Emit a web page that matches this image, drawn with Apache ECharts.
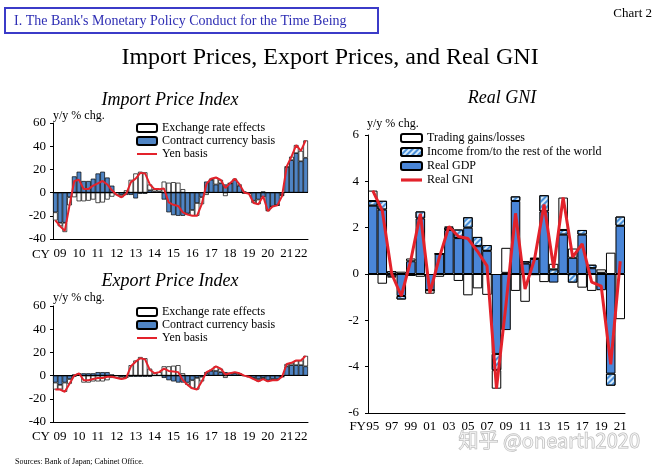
<!DOCTYPE html>
<html><head><meta charset="utf-8">
<script src="https://cdn.jsdelivr.net/npm/echarts@6/dist/echarts.min.js"></script>
<style>html,body{margin:0;padding:0;background:#fff}#c{width:660px;height:468px}</style>
</head><body><div id="c"></div>
<script>
// ---- tick labels / categories ----
const yearLabels = ['09','10','11','12','13','14','15','16','17','18','19','20','21','22'];
const fyLabels = ['95','96','97','98','99','00','01','02','03','04','05','06','07','08','09','10','11','12','13','14','15','16','17','18','19','20','21'];
const yTicksPrice = [-40, 60, 20];
const yTicksGni = [-6, 6, 2];

// ---- Import price index (y/y %), quarterly CY2009Q1-2022Q2 ----
const impContract = [-17,-26,-26,-4, 14,18,10,10, 12,16.5,18,13, 6,0,-2,-2, -2,-5,-1,-1, 2,1,1,-6,
  -17,-19.5,-20,-20, -18,-15,-9,-4, 9.5,11,7,8, 7,8,11,6, 1,0,-7,-6, -4,-15,-12,-11, -2,22,28,34, 27,30];
const impExchange = [-7,-3,-8,-7, -4,-7.5,-7.5,-7, -6,-9,-8.5,-6, -3.5,-2,-2,2, 11,16.5,18,17.5, 5,2,2,9.5,
  8.5,9,8.5,3, -1,-5,-11,-6, -2,1,6,3, -3,0,1,1, -1,-1,-2,-4, 1,-1,0,0, -1,0.5,3,7, 9,15];
const impYen = [-24,-29,-33,-11, 10,11,3,3, 6,8,10,7, 2,-2,-4,-1, 9,12,17,16.5, 7,3,3,3.5,
  -8.5,-10.5,-11.5,-17, -19,-20,-20,-10, 7.5,12,13,11, 4,8,12,7, 0,-1,-9,-10, -3,-16,-12,-11, -3,22.5,31,41, 36,45];

// ---- Export price index (y/y %) ----
const expContract = [-6,-8,-6,-3, 1,1,2,2, 2,3,3,3, 1,0,-1,-1, -1,-1,-1,-1, -1,0,0,-2,
  -4,-5,-6,-6, -6,-4,-2,-1, 2,4,4,3, 3,2,2,1, 0,-1,-2,-3, -2,-4,-3,-3, -1,8,9,9, 9,8];
const expExchange = [-6,-4,-8,-4, -1,1,-6,-6, -5,-5,-5,-4, -2,-2,-2,-1, 9,13,16,15, 6,2,3,8,
  8,8.5,9,2, -2,-7,-10,-4, 1,1,4,3, -2,0,1,1, 0,0,-1,-2, -1,-1,-1,-1, 0,2,2,4, 4,9];
const expYen = [-12,-12,-14,-7, 0,2,-4,-4, -3,-2,-2,-1, -1,-2,-3,-2, 8,12,15,14, 5,2,3,6,
  4,3.5,3,-4, -8,-11,-12,-5, 3,5,8,6, 1,2,3,2, 0,-1,-3,-5, -3,-5,-4,-4, -1,10,11,13, 13,17];

// ---- Real GNI (y/y %), FY1995-2021 ----
const gdp = [2.95,2.78,-0.1,-0.95,0.55,2.4,-0.7,0.87,1.9,1.55,2.0,1.2,1.0,-3.45,-2.42,3.15,0.45,0.65,2.7,-0.37,1.7,0.7,1.7,0.25,-0.7,-4.3,2.08];
const income = [0.2,0.38,0.12,-0.15,-0.08,0.3,0.0,0.0,0.1,0.37,0.45,0.4,0.25,-0.7,0.05,0.2,0.1,0.05,0.7,0.2,0.2,-0.37,0.2,0.15,0.05,-0.52,0.4];
const trading = [0.45,-0.42,-0.05,0.1,0.12,-0.12,-0.15,-0.12,0.05,-0.3,-0.92,-0.62,-0.9,-0.8,1.08,-0.73,-1.2,-0.05,-0.35,0.24,1.4,0.4,-0.59,-0.73,0.15,0.92,-1.95];
const gni = [3.6,2.74,0.0,-0.95,0.6,2.6,-0.82,0.72,2.05,1.62,1.53,0.98,0.35,-4.95,-1.3,2.62,-0.65,0.65,3.0,0.27,3.3,0.73,1.3,-0.35,-0.52,-3.9,0.55];

// ---- build ----
const quarters = [];
yearLabels.forEach(y => { for (let q = 1; q <= 4; q++) quarters.push(y + 'Q' + q); });
quarters.length = impYen.length;

const SERIF = 'Liberation Serif';
const BLUE = '#4f84c4';
const GDPBLUE = '#4a86d8';
const RED = '#e3222b';
const LINE_ICON = 'path://M0,0 L40,0 L40,4 L0,4 Z';

function priceXAxis(gi) {
  return {
    type: 'category', gridIndex: gi, data: quarters, boundaryGap: true,
    axisLine: { onZero: false, lineStyle: { color: '#000', width: 1 } },
    axisTick: { inside: true, length: 3, interval: (i) => i % 4 === 0, lineStyle: { color: '#000' } },
    axisLabel: {
      interval: 0, color: '#000', fontFamily: SERIF, fontSize: 13, margin: 8,
      formatter: (v, i) => ((i % 4 === 1 && i < 52) || i === 52 ? v.slice(0, 2) : '')
    }
  };
}
function priceYAxis(gi) {
  return {
    type: 'value', gridIndex: gi, min: yTicksPrice[0], max: yTicksPrice[1], interval: yTicksPrice[2],
    splitLine: { show: false },
    axisLine: { show: true, lineStyle: { color: '#000', width: 1 } },
    axisTick: { show: true, length: 3, lineStyle: { color: '#000' } },
    axisLabel: { color: '#000', fontFamily: SERIF, fontSize: 13, margin: 7 }
  };
}
const zeroLine = {
  silent: true, symbol: ['none', 'none'], label: { show: false },
  lineStyle: { color: '#000', width: 1, type: 'solid' }, data: [{ yAxis: 0 }]
};
function priceSeries(gi, contract, exch, yen, stk) {
  return [
    { name: 'Contract currency basis', type: 'bar', stack: stk, xAxisIndex: gi, yAxisIndex: gi,
      data: contract, barWidth: '100%', barCategoryGap: '0%',
      itemStyle: { color: BLUE, borderColor: '#000', borderWidth: 0.7 }, markLine: zeroLine },
    { name: 'Exchange rate effects', type: 'bar', stack: stk, xAxisIndex: gi, yAxisIndex: gi,
      data: exch, barWidth: '100%', barCategoryGap: '0%',
      itemStyle: { color: '#fff', borderColor: '#000', borderWidth: 0.7 } },
    { name: 'Yen basis', type: 'line', xAxisIndex: gi, yAxisIndex: gi, data: yen, symbol: 'none', z: 5,
      lineStyle: { color: RED, width: 2 }, itemStyle: { color: RED } }
  ];
}
const legText = { fontSize: 12, fontFamily: SERIF, color: '#000', lineHeight: 12 };
function priceLegend(top) {
  return { data: ['Exchange rate effects', 'Contract currency basis',
      { name: 'Yen basis', icon: LINE_ICON, itemStyle: { color: RED, borderWidth: 0 } }],
    left: 136, top: top,
    orient: 'vertical', itemWidth: 20, itemHeight: 8, itemGap: 1, padding: 0, selectedMode: false,
    textStyle: legText };
}

const txt = (text, x, y, size, opt) => Object.assign({ type: 'text', x: x, y: y, silent: true,
  style: Object.assign({ text: text, fontFamily: SERIF, fontSize: size, fill: '#000', align: 'left', verticalAlign: 'middle' }, opt || {}) });

const option = {
  animation: false,
  backgroundColor: '#fff',
  grid: [
    { left: 53, top: 123, width: 255, height: 116 },
    { left: 53, top: 306, width: 255, height: 116 },
    { left: 368, top: 135, width: 257, height: 278 }
  ],
  xAxis: [
    priceXAxis(0), priceXAxis(1),
    { type: 'category', gridIndex: 2, data: fyLabels, boundaryGap: true,
      axisLine: { onZero: false, lineStyle: { color: '#000', width: 1 } },
      axisTick: { inside: true, length: 4, interval: 1, lineStyle: { color: '#000' } },
      axisLabel: { interval: 1, color: '#000', fontFamily: SERIF, fontSize: 13, margin: 7 } }
  ],
  yAxis: [
    priceYAxis(0), priceYAxis(1),
    { type: 'value', gridIndex: 2, min: yTicksGni[0], max: yTicksGni[1], interval: yTicksGni[2],
      splitLine: { show: false },
      axisLine: { show: true, lineStyle: { color: '#000', width: 1 } },
      axisTick: { show: true, length: 3, lineStyle: { color: '#000' } },
      axisLabel: { color: '#000', fontFamily: SERIF, fontSize: 13, margin: 9 } }
  ],
  legend: [
    priceLegend(122),
    priceLegend(306),
    { data: ['Trading gains/losses', 'Income from/to the rest of the world', 'Real GDP',
        { name: 'Real GNI', icon: 'path://M0,0 L40,0 L40,6 L0,6 Z', itemStyle: { color: RED, borderWidth: 0 } }],
      left: 400, top: 132, orient: 'vertical', itemWidth: 21, itemHeight: 8, itemGap: 2, padding: 0,
      selectedMode: false, textStyle: legText }
  ],
  series: [].concat(
    priceSeries(0, impContract, impExchange, impYen, 'imp'),
    priceSeries(1, expContract, expExchange, expYen, 'exp'),
    [
      { name: 'Real GDP', type: 'bar', stack: 'gni', xAxisIndex: 2, yAxisIndex: 2, data: gdp,
        barWidth: '100%', barCategoryGap: '0%', itemStyle: { color: GDPBLUE, borderColor: '#000', borderWidth: 1 },
        markLine: zeroLine },
      { name: 'Income from/to the rest of the world', type: 'bar', stack: 'gni', xAxisIndex: 2, yAxisIndex: 2,
        data: income, barWidth: '100%', barCategoryGap: '0%',
        itemStyle: { color: '#d4eafb', borderColor: '#000', borderWidth: 1,
          decal: { symbol: 'rect', symbolSize: 1, dashArrayX: [1, 0], dashArrayY: [2, 2],
            rotation: -Math.PI / 4, color: '#4a8fd8' } } },
      { name: 'Trading gains/losses', type: 'bar', stack: 'gni', xAxisIndex: 2, yAxisIndex: 2,
        data: trading, barWidth: '100%', barCategoryGap: '0%',
        itemStyle: { color: '#fff', borderColor: '#000', borderWidth: 1 } },
      { name: 'Real GNI', type: 'line', xAxisIndex: 2, yAxisIndex: 2, data: gni, symbol: 'none', z: 5,
        lineStyle: { color: RED, width: 3 }, itemStyle: { color: RED } }
    ]
  ),
  graphic: [
    { type: 'rect', silent: true, shape: { x: 5, y: 8, width: 373, height: 25 },
      style: { fill: 'none', stroke: '#3b3bc8', lineWidth: 2 } },
    txt("I. The Bank's Monetary Policy Conduct for the Time Being", 14, 21, 14, { fill: '#2e2eb4' }),
    txt('Chart 2', 652, 14, 13, { align: 'right' }),
    txt('Import Prices, Export Prices, and Real GNI', 330, 58, 24, { align: 'center' }),
    txt('Import Price Index', 170, 100, 18, { align: 'center', fontStyle: 'italic' }),
    txt('Export Price Index', 170, 281, 18, { align: 'center', fontStyle: 'italic' }),
    txt('Real GNI', 502, 98, 18, { align: 'center', fontStyle: 'italic' }),
    txt('y/y % chg.', 53, 116, 12),
    txt('y/y % chg.', 53, 298, 12),
    txt('y/y % chg.', 367, 124, 12),
    txt('CY', 50, 255, 13, { align: 'right' }),
    txt('CY', 50, 437, 13, { align: 'right' }),
    txt('FY', 366, 427, 13, { align: 'right' }),
    txt('Sources: Bank of Japan; Cabinet Office.', 15, 462, 8),
    txt('知乎 @onearth2020', 640, 440, 20, { align: 'right', fontFamily: 'Noto Sans CJK SC',
      fill: 'rgba(255,255,255,0.5)', stroke: '#b8b8b8', lineWidth: 1 })
  ]
};
const chart = echarts.init(document.getElementById('c'), null, { renderer: 'canvas' });
chart.setOption(option);
</script></body></html>
